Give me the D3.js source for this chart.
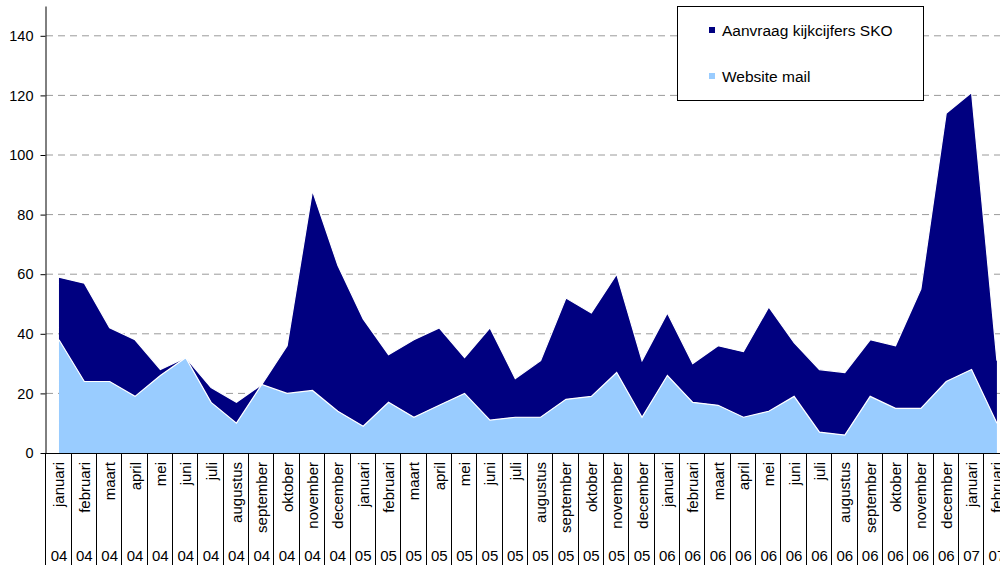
<!DOCTYPE html>
<html>
<head>
<meta charset="utf-8">
<script src="https://cdn.jsdelivr.net/npm/d3@7"></script>
<style>
  body { margin: 0; background: #fff; }
  svg { display: block; font-family: 'Liberation Sans', Arial, sans-serif; }
</style>
</head>
<body>
<svg id="chart" width="1000" height="565"></svg>
<script>
const months = [
  'januari', 'februari', 'maart', 'april', 'mei', 'juni', 'juli', 'augustus', 'september', 'oktober', 'november', 'december',
  'januari', 'februari', 'maart', 'april', 'mei', 'juni', 'juli', 'augustus', 'september', 'oktober', 'november', 'december',
  'januari', 'februari', 'maart', 'april', 'mei', 'juni', 'juli', 'augustus', 'september', 'oktober', 'november', 'december',
  'januari', 'februari'
];
const years = [
  '04', '04', '04', '04', '04', '04', '04', '04', '04', '04', '04', '04',
  '05', '05', '05', '05', '05', '05', '05', '05', '05', '05', '05', '05',
  '06', '06', '06', '06', '06', '06', '06', '06', '06', '06', '06', '06',
  '07', '07'
];
const websiteMail = [
  38, 24, 24, 19, 26, 32, 17, 10, 23, 20, 21, 14,
  9, 17, 12, 16, 20, 11, 12, 12, 18, 19, 27, 12,
  26, 17, 16, 12, 14, 19, 7, 6, 19, 15, 15, 24,
  28, 10
];
const aanvraagSKO = [
  21, 33, 18, 19, 2, 0, 5, 7, 0, 16, 67, 49,
  36, 16, 26, 26, 12, 31, 13, 19, 34, 28, 33, 19,
  21, 13, 20, 22, 35, 18, 21, 21, 19, 21, 40, 90,
  93, 21
];
const yTicks = [0, 20, 40, 60, 80, 100, 120, 140];

const rows = months.map((m, i) => ({ i: i, web: websiteMail[i], sko: aanvraagSKO[i] }));

const svg = d3.select('#chart');
const left = 46.3, step = 25.35;

const x = d3.scaleBand()
  .domain(d3.range(months.length))
  .range([left, left + step * months.length])
  .paddingInner(0).paddingOuter(0);
const cx = i => x(i) + x.bandwidth() / 2;

const y = d3.scaleLinear().domain([0, 150]).range([453, 6]);

// gridlines
svg.append('g')
  .selectAll('line')
  .data(yTicks.filter(t => t > 0))
  .enter().append('line')
  .attr('x1', 46).attr('x2', 1000)
  .attr('y1', d => y(d)).attr('y2', d => y(d))
  .attr('stroke', '#9a9a9a')
  .attr('stroke-width', 1)
  .attr('stroke-dasharray', '7,5');

// stacked areas
const series = d3.stack().keys(['web', 'sko'])(rows);
const colors = { web: '#99ccff', sko: '#000080' };

const area = d3.area()
  .x(d => cx(d.data.i))
  .y0(d => y(d[0]))
  .y1(d => y(d[1]));

const line = d3.line()
  .x(d => cx(d.data.i))
  .y(d => y(d[1]));

svg.append('g')
  .selectAll('path')
  .data(series.slice().reverse())
  .enter().append('path')
  .attr('d', area)
  .attr('fill', d => colors[d.key]);

svg.append('g')
  .selectAll('path')
  .data(series)
  .enter().append('path')
  .attr('d', line)
  .attr('fill', 'none')
  .attr('stroke', '#fff')
  .attr('stroke-width', 1.2);

// y axis
const yAxis = svg.append('g')
  .attr('transform', 'translate(45.5,0)')
  .call(d3.axisLeft(y).tickValues(yTicks).tickSize(5).tickSizeOuter(0).tickPadding(7));
yAxis.select('.domain').attr('stroke', '#000');
yAxis.selectAll('.tick line').attr('stroke', '#000');
yAxis.selectAll('.tick text')
  .attr('font-size', 14.5)
  .attr('font-family', "'Liberation Sans', Arial, sans-serif")
  .attr('fill', '#000');

// x axis baseline
svg.append('line')
  .attr('x1', 45).attr('x2', 1000)
  .attr('y1', 453.5).attr('y2', 453.5)
  .attr('stroke', '#000');

// category dividers
svg.append('g')
  .selectAll('line')
  .data(d3.range(months.length + 1))
  .enter().append('line')
  .attr('x1', i => Math.round(left + i * step) - 0.5)
  .attr('x2', i => Math.round(left + i * step) - 0.5)
  .attr('y1', 453).attr('y2', 565)
  .attr('stroke', '#000')
  .attr('stroke-width', 1);

// month labels
svg.append('g')
  .selectAll('text')
  .data(months)
  .enter().append('text')
  .attr('transform', (d, i) => `translate(${cx(i) + 5.5},462) rotate(-90)`)
  .attr('text-anchor', 'end')
  .attr('font-size', 15)
  .attr('fill', '#000')
  .text(d => d);

// year labels
svg.append('g')
  .selectAll('text')
  .data(years)
  .enter().append('text')
  .attr('x', (d, i) => cx(i))
  .attr('y', 561)
  .attr('text-anchor', 'middle')
  .attr('font-size', 15)
  .attr('fill', '#000')
  .text(d => d);

// legend
const legend = svg.append('g');
legend.append('rect')
  .attr('x', 677.5).attr('y', 6.5)
  .attr('width', 246).attr('height', 94)
  .attr('fill', '#fff').attr('stroke', '#000');

const legendItems = [
  { label: 'Aanvraag kijkcijfers SKO', key: 'sko', y: 36 },
  { label: 'Website mail', key: 'web', y: 82 }
];
const li = legend.selectAll('g.item')
  .data(legendItems)
  .enter().append('g').attr('class', 'item');
li.append('rect')
  .attr('x', 709).attr('y', d => d.y - 9)
  .attr('width', 6).attr('height', 6)
  .attr('fill', d => colors[d.key]);
li.append('text')
  .attr('x', 722).attr('y', d => d.y)
  .attr('font-size', 15.5)
  .attr('fill', '#000')
  .text(d => d.label);
</script>
</body>
</html>
